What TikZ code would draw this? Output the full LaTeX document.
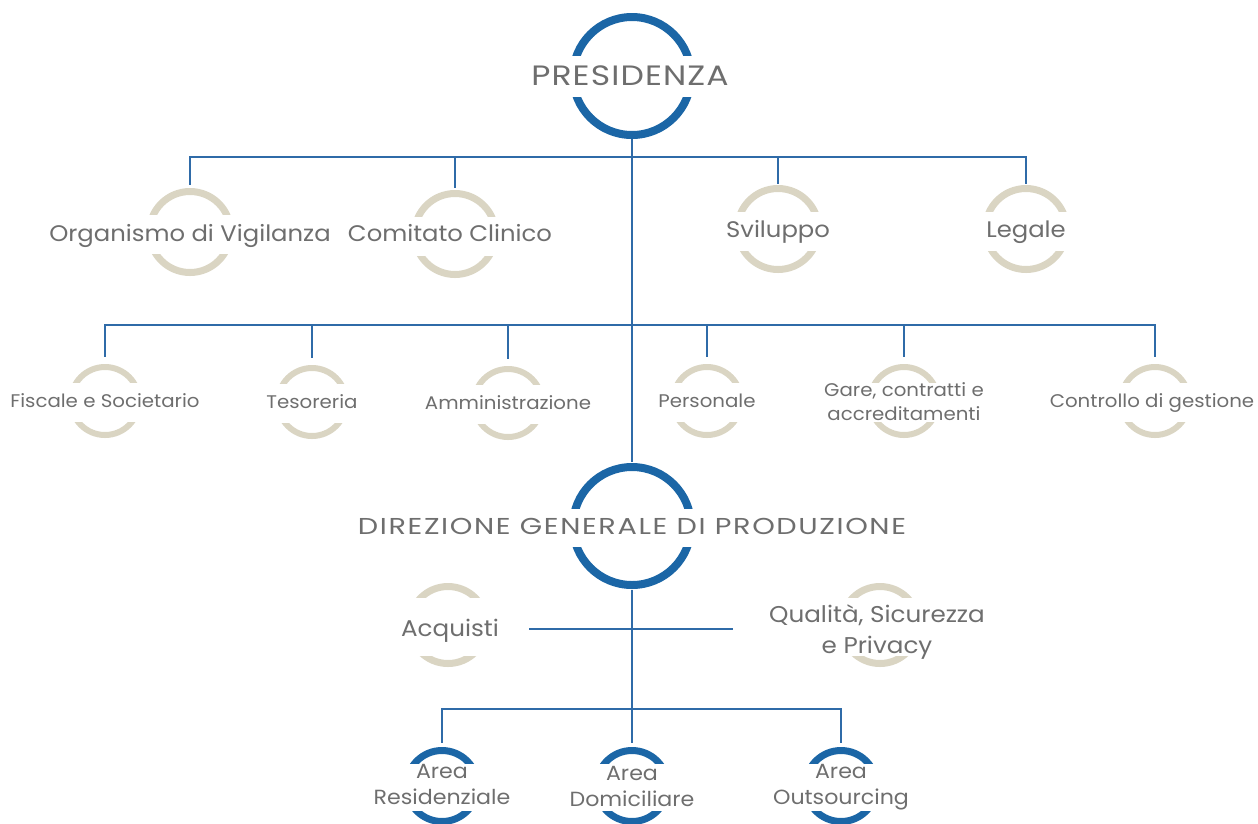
\documentclass[tikz,border=0pt]{standalone}
\usepackage{fontspec}
\setmainfont{Poppins}[FakeStretch=1.08]
\newfontfamily\capsbig{Poppins}[FakeStretch=1.18, LetterSpace=4]
\newfontfamily\capsdir{Poppins}[FakeStretch=1.25, LetterSpace=7]
\usetikzlibrary{calc}
\definecolor{ringblue}{HTML}{1B66A6}
\definecolor{lineblue}{HTML}{2F6BA8}
\definecolor{ringbeige}{HTML}{DAD5C3}
\definecolor{textgray}{HTML}{6E6E6E}
\def\ring[#1](#2)(#3:#4:#5){%
	\begin{scope}
		\clip ($(#2)+(-#3-9,-#3-9)$) rectangle ($(#2)+(#3+9,-#4)$);
		\draw[#1] (#2) circle (#3pt);
	\end{scope}
	\begin{scope}
		\clip ($(#2)+(-#3-9,#5)$) rectangle ($(#2)+(#3+9,#3+9)$);
		\draw[#1] (#2) circle (#3pt);
	\end{scope}}

\begin{document}
\begin{tikzpicture}[x=1pt, y=-1pt,
	link/.style={draw=lineblue, line width=1.3pt},
	hub/.style={circle, inner sep=0pt, minimum size=#1},
	txt/.style={text=textgray, inner sep=0pt, align=center},
	bluering/.style={draw=ringblue, line width=#1},
	beigering/.style={draw=ringbeige, line width=#1},
	fbig/.style={font=\capsbig\fontsize{28}{34}\selectfont},
	fdir/.style={font=\capsdir\fontsize{23}{28}\selectfont},
	fmid/.style={font=\fontsize{22.5}{27}\selectfont},
	fsub/.style={font=\fontsize{22.8}{31}\selectfont},
	fsmall/.style={font=\fontsize{18.3}{24}\selectfont},
	farea/.style={font=\fontsize{20.5}{26}\selectfont}]
			%%%%% START %%%%%
			
			\useasboundingbox (0,0) rectangle (1258,823);
			
			% presidenza and direzione
			\node[hub=126pt] (pres) at (632,76) {};
			\node[hub=128pt] (dir) at (632,526) {};
			
			% first row
			\node[hub=94pt] (org) at (190,232) {};
			\node[hub=92pt] (com) at (455,234) {};
			\node[hub=90pt] (svi) at (778,229) {};
			\node[hub=90pt] (leg) at (1026,229) {};
			
			% second row
			\node[hub=88pt] (fis) at (105,401) {};
			\node[hub=88pt] (tes) at (312,402) {};
			\node[hub=88pt] (amm) at (508,403) {};
			\node[hub=88pt] (per) at (707,401) {};
			\node[hub=88pt] (gar) at (904,401) {};
			\node[hub=88pt] (con) at (1155,401) {};
			
			% staff of direzione
			\node[hub=84pt] (acq) at (448,625) {};
			\node[hub=84pt] (qua) at (880,625) {};
			
			% areas
			\node[hub=86pt] (res) at (442,786) {};
			\node[hub=86pt] (dom) at (632,786) {};
			\node[hub=86pt] (out) at (841,786) {};
			
			% lines
			\coordinate (bar1) at (632,157);
			\coordinate (bar2) at (632,325);
			\coordinate (bar3) at (632,709);
			\coordinate (acq-r) at (529,629);
			\coordinate (qua-l) at (733,629);
			
			\draw[link] (pres.south) -- (dir.north);
			\draw[link] (org.north) |- (bar1) -| (leg.north);
			\draw[link] (com.north) -- (com.north |- bar1);
			\draw[link] (svi.north) -- (svi.north |- bar1);
			\draw[link] (fis.north) |- (bar2) -| (con.north);
			\foreach \n in {tes,amm,per,gar}
				\draw[link] (\n.north) -- (\n.north |- bar2);
			\draw[link] (acq-r) -- (qua-l);
			\draw[link] (dir.south) -- (dom.north);
			\draw[link] (res.north) |- (bar3) -| (out.north);
			
			% rings
			\ring[bluering=8pt](pres)(59:21:21);
			\ring[bluering=8pt](dir)(59:18:21);
			\foreach \n in {org,com,svi,leg}
				{\ring[beigering=7pt](\n)(40.5:18:22)}
			\foreach \n in {fis,tes,amm,per,gar,con}
				{\ring[beigering=6pt](\n)(34:19:21)}
			\foreach \n in {acq,qua}
				{\ring[beigering=7pt](\n)(38.5:28:31)}
			\foreach \n in {res,dom,out}
				{\ring[bluering=7pt](\n)(35.5:23:25)}
			
			% texts
			\node[txt, fbig, anchor=base] (pres-txt) at (630,85) {PRESIDENZA};
			\node[txt, fdir, anchor=base] (dir-txt) at (632,534) {DIREZIONE GENERALE DI PRODUZIONE};
			
			\node[txt, fmid, anchor=base] (org-txt) at (190,241) {Organismo di Vigilanza};
			\node[txt, fmid, anchor=base] (com-txt) at (450,241) {Comitato Clinico};
			\node[txt, fmid, anchor=base] (svi-txt) at (778,237) {Sviluppo};
			\node[txt, fmid, anchor=base] (leg-txt) at (1026,237) {Legale};
			
			\node[txt, fsmall, anchor=base] (fis-txt) at (105,407) {Fiscale e Societario};
			\node[txt, fsmall, anchor=base] (tes-txt) at (312,408) {Tesoreria};
			\node[txt, fsmall, anchor=base] (amm-txt) at (508,409) {Amministrazione};
			\node[txt, fsmall, anchor=base] (per-txt) at (707,407) {Personale};
			\node[txt, fsmall] (gar-txt) at (904,402) {Gare, contratti e\\accreditamenti};
			\node[txt, fsmall, anchor=base] (con-txt) at (1152,407) {Controllo di gestione};
			
			\node[txt, fsub, anchor=base] (acq-txt) at (450,636) {Acquisti};
			\node[txt, fsub] (qua-txt) at (877,632) {Qualità, Sicurezza\\e Privacy};
			
			\node[txt, farea] (res-txt) at (442,784) {Area\\Residenziale};
			\node[txt, farea] (dom-txt) at (632,786) {Area\\Domiciliare};
			\node[txt, farea] (out-txt) at (841,787) {Area\\Outsourcing};
			
			%%%%% END %%%%%
\end{tikzpicture}
\end{document}
